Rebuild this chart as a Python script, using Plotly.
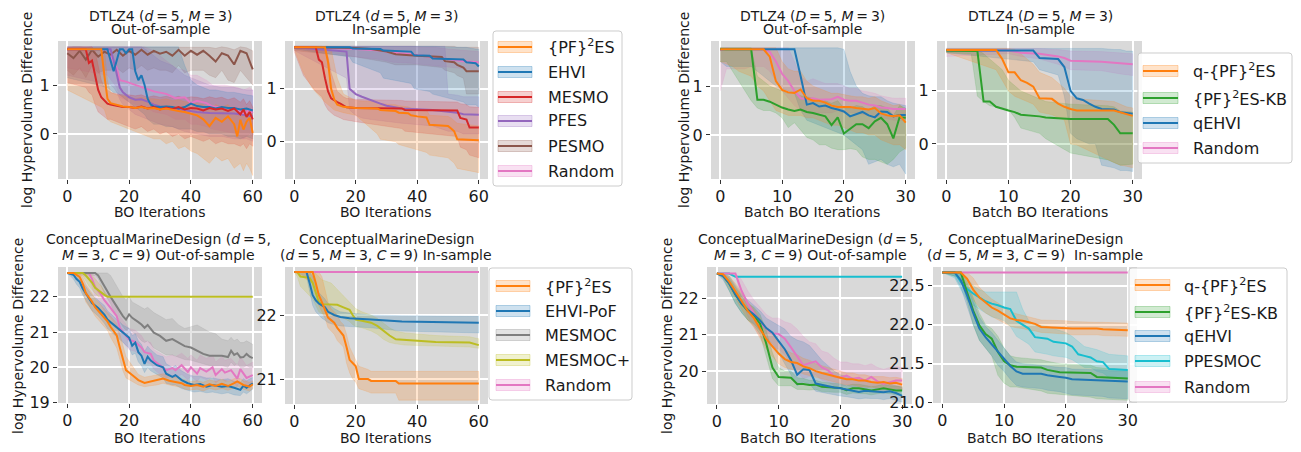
import plotly.graph_objects as go

# The page body has the browser's default 8px margin, so the figure is sized to fit
# inside it and all positions below are given in window pixels (offset by 8).
OFF = 8
W, H = 1301 - 2 * OFF, 452 - 2 * OFF
FONT = "DejaVu Sans"

ORANGE = "#ff7f0e"; BLUE = "#1f77b4"; RED = "#d62728"; PURPLE = "#9467bd"
BROWN = "#8c564b"; PINK = "#e377c2"; GRAY = "#7f7f7f"; OLIVE = "#bcbd22"
CYAN = "#17becf"; GREEN = "#2ca02c"

# ================= Panel 1: DTLZ4 (d=5, M=3) Out-of-sample, BO =================
p1_pf_x = [0,11,12,13,14,16,18,20,22,24,26,28,30,32,34,36,38,40,42,44,46,48,50,52,54,55,56,57,58,59,60]
p1_pf_y = [1.73,1.73,1.2,0.72,0.63,0.6,0.56,0.55,0.53,0.55,0.52,0.53,0.5,0.52,0.49,0.47,0.45,0.42,0.38,0.3,0.16,0.33,0.25,0.36,0.2,-0.05,0.29,0.09,0.25,0.33,0.02]
p1_pf_lo = [0.9,0.55,0.5,0.3,0.25,0.2,0.15,0.1,0.05,0.0,-0.05,-0.1,-0.1,-0.2,-0.15,-0.3,-0.25,-0.35,-0.4,-0.5,-0.6,-0.45,-0.55,-0.5,-0.7,-0.65,-0.6,-0.75,-0.6,-0.7,-0.85]
p1_pf_hi = [1.76,1.76,1.76,1.1,0.85,0.8,0.78,0.75,0.72,0.75,0.72,0.72,0.7,0.72,0.68,0.7,0.66,0.65,0.62,0.6,0.5,0.6,0.55,0.6,0.45,0.35,0.5,0.4,0.45,0.5,0.3]

p1_ehvi_x = [0,13,14,15,16,17,18,19,20,21,22,23,24,25,26,27,28,30,32,34,36,38,40,42,44,46,48,50,52,54,56,58,60]
p1_ehvi_y = [1.73,1.73,1.5,1.28,1.5,1.73,1.73,1.65,1.73,1.73,1.28,1.1,1.2,1.0,0.72,0.6,0.56,0.55,0.56,0.55,0.52,0.55,0.62,0.57,0.55,0.55,0.52,0.55,0.53,0.53,0.5,0.52,0.48]
p1_ehvi_lo = [1.15,0.95,0.9,0.85,0.85,0.8,0.75,0.7,0.65,0.6,0.55,0.5,0.45,0.4,0.3,0.25,0.2,0.2,0.15,0.15,0.1,0.1,0.1,0.05,0.05,0.0,0.0,0.0,-0.05,-0.05,-0.1,-0.05,-0.1]
p1_ehvi_hi = [1.78,1.78,1.78,1.78,1.78,1.78,1.78,1.78,1.78,1.78,1.78,1.78,1.78,1.78,1.78,1.78,1.78,1.78,1.78,1.78,1.78,1.4,1.1,1.0,0.95,0.9,0.9,0.88,0.85,0.85,0.82,0.8,0.78]

p1_mesmo_x = [0,6,7,8,9,10,11,12,13,14,16,18,20,22,24,26,28,30,32,34,36,38,40,42,44,46,48,50,52,54,56,57,58,59,60]
p1_mesmo_y = [1.73,1.73,1.45,1.5,1.2,0.9,0.75,0.68,0.62,0.6,0.57,0.55,0.55,0.53,0.56,0.52,0.55,0.5,0.54,0.51,0.55,0.5,0.53,0.52,0.48,0.53,0.5,0.52,0.47,0.52,0.4,0.5,0.35,0.45,0.3]
p1_mesmo_lo = [1.05,0.95,0.85,0.8,0.6,0.45,0.4,0.35,0.3,0.3,0.25,0.2,0.15,0.1,0.15,0.05,0.1,0.0,0.05,-0.05,0.0,-0.1,-0.05,-0.1,-0.15,-0.1,-0.2,-0.15,-0.2,-0.2,-0.25,-0.2,-0.3,-0.2,-0.25]
p1_mesmo_hi = [1.78,1.78,1.78,1.78,1.7,1.4,1.1,0.95,0.9,0.85,0.82,0.8,0.8,0.78,0.8,0.75,0.78,0.75,0.77,0.74,0.77,0.73,0.76,0.75,0.72,0.76,0.73,0.75,0.7,0.74,0.65,0.72,0.6,0.68,0.55]

p1_pfes_x = [0,14,15,16,17,18,19,20,22,24,26,28,30,34,38,42,46,50,54,58,60]
p1_pfes_y = [1.73,1.73,1.5,1.2,0.95,0.85,0.8,0.75,0.7,0.71,0.66,0.6,0.56,0.52,0.48,0.45,0.43,0.43,0.42,0.38,0.36]
p1_pfes_lo = [1.2,1.0,0.95,0.85,0.7,0.6,0.55,0.5,0.4,0.35,0.3,0.25,0.2,0.15,0.05,0.0,-0.05,-0.05,-0.1,-0.1,-0.15]
p1_pfes_hi = [1.78,1.78,1.78,1.78,1.78,1.78,1.78,1.78,1.78,1.78,1.7,1.6,1.5,1.4,1.2,1.1,1.0,0.95,0.95,0.9,0.9]

p1_pesmo_x = list(range(0, 61, 2))
p1_pesmo_y = [1.65,1.55,1.7,1.52,1.72,1.58,1.68,1.62,1.72,1.6,1.7,1.62,1.72,1.62,1.7,1.64,1.68,1.6,1.72,1.6,1.7,1.62,1.7,1.6,1.48,1.65,1.6,1.42,1.7,1.65,1.32]
p1_pesmo_lo = [1.3,1.2,1.35,1.15,1.4,1.25,1.3,1.3,1.35,1.25,1.35,1.3,1.4,1.3,1.35,1.3,1.3,1.25,1.4,1.25,1.3,1.3,1.3,1.2,1.15,1.3,1.1,1.05,1.3,1.15,1.0]
p1_pesmo_hi = [1.76,1.78,1.78,1.77,1.78,1.78,1.77,1.78,1.78,1.78,1.78,1.77,1.78,1.78,1.78,1.77,1.78,1.78,1.78,1.77,1.78,1.78,1.78,1.77,1.75,1.78,1.76,1.72,1.78,1.76,1.7]

p1_rand_x = [0,13,16,17,19,22,25,28,32,35,38,40,42,45,47,51,55,57,59,60]
p1_rand_y = [1.73,1.73,1.35,1.1,1.07,1.0,0.94,0.87,0.82,0.73,0.75,0.63,0.68,0.63,0.56,0.53,0.52,0.4,0.5,0.43]
p1_rand_lo = [1.35,1.2,0.95,0.75,0.7,0.6,0.55,0.45,0.4,0.3,0.3,0.2,0.2,0.15,0.1,0.05,0.0,-0.1,0.0,-0.05]
p1_rand_hi = [1.78,1.78,1.78,1.78,1.78,1.78,1.78,1.7,1.5,1.35,1.3,1.2,1.2,1.1,1.0,1.0,0.95,0.9,0.95,0.9]

# ================= Panel 2: DTLZ4 (d=5, M=3) In-sample, BO =================
p2_pf_x = [0,3,6,10,11,12,13,14,16,20,27,28,33,34,37,38,40,43,44,50,51,52,53,60]
p2_pf_y = [1.78,1.78,1.78,1.78,1.5,1.0,0.8,0.7,0.66,0.64,0.63,0.6,0.58,0.55,0.54,0.5,0.48,0.46,0.32,0.3,0.25,0.2,0.05,0.03]
p2_pf_lo = [1.75,1.3,1.0,0.75,0.7,0.65,0.6,0.58,0.55,0.5,0.15,0.05,0.0,-0.05,-0.1,-0.12,-0.15,-0.2,-0.25,-0.3,-0.35,-0.4,-0.5,-0.58]
p2_pf_hi = [1.8,1.8,1.8,1.8,1.8,1.75,1.5,1.2,0.9,0.78,0.75,0.72,0.7,0.68,0.66,0.64,0.62,0.6,0.5,0.48,0.45,0.4,0.35,0.3]

p2_ehvi_x = [0,18,19,28,29,38,39,44,45,55,56,59,60]
p2_ehvi_y = [1.78,1.78,1.76,1.75,1.72,1.7,1.63,1.62,1.57,1.55,1.5,1.48,1.42]
p2_ehvi_lo = [1.75,1.6,1.5,1.3,1.2,1.1,1.0,0.95,0.9,0.75,0.7,0.7,0.65]
p2_ehvi_hi = [1.8,1.8,1.8,1.8,1.8,1.8,1.8,1.8,1.8,1.78,1.78,1.75,1.75]

p2_mesmo_x = [0,3,7,8,9,10,11,12,13,14,15,16,17,20,35,36,53,54,56,57,60]
p2_mesmo_y = [1.78,1.78,1.78,1.55,1.5,1.2,0.95,0.82,0.78,0.75,0.72,0.68,0.65,0.64,0.63,0.6,0.59,0.45,0.42,0.27,0.27]
p2_mesmo_lo = [1.7,1.25,0.95,0.9,0.85,0.7,0.6,0.55,0.5,0.48,0.45,0.42,0.4,0.38,0.25,0.2,0.1,-0.1,-0.15,-0.25,-0.3]
p2_mesmo_hi = [1.8,1.8,1.8,1.8,1.8,1.78,1.6,1.3,1.1,0.95,0.9,0.85,0.82,0.8,0.78,0.77,0.75,0.72,0.7,0.66,0.65]

p2_pfes_x = [0,17,18,19,20,22,25,28,30,35,45,49,50,53,55,60]
p2_pfes_y = [1.78,1.7,1.0,0.95,0.9,0.85,0.78,0.72,0.68,0.63,0.6,0.58,0.57,0.55,0.52,0.51]
p2_pfes_lo = [1.72,1.2,0.6,0.55,0.5,0.45,0.42,0.4,0.38,0.35,0.3,0.22,0.2,0.2,0.15,0.15]
p2_pfes_hi = [1.8,1.8,1.8,1.8,1.8,1.8,1.8,1.8,1.8,1.8,1.8,1.8,0.9,0.88,0.85,0.85]

p2_pesmo_x = [0,20,25,30,33,40,48,49,52,53,55,56,60]
p2_pesmo_y = [1.78,1.77,1.75,1.7,1.65,1.62,1.6,1.52,1.5,1.45,1.4,1.33,1.33]
p2_pesmo_lo = [1.72,1.6,1.55,1.5,1.45,1.45,1.4,1.35,1.3,1.25,1.2,0.9,0.9]
p2_pesmo_hi = [1.8,1.8,1.8,1.8,1.8,1.8,1.8,1.8,1.8,1.78,1.78,1.78,1.78]

p2_rand_x = [0,10,20,28,32,38,42,46,50,55,60]
p2_rand_y = [1.78,1.77,1.75,1.72,1.68,1.65,1.62,1.58,1.55,1.52,1.5]
p2_rand_lo = [1.75,1.7,1.6,1.55,1.5,1.48,1.45,1.42,1.4,1.38,1.35]
p2_rand_hi = [1.8,1.8,1.8,1.8,1.8,1.8,1.78,1.78,1.75,1.72,1.7]

# ================= Panel 3: DTLZ4 (D=5, M=3) Out-of-sample, Batch =================
batch_iters = list(range(31))
p3_qpf_y = [1.75,1.75,1.75,1.75,1.75,1.75,1.75,1.75,1.6,1.1,0.92,0.87,0.86,0.93,0.75,0.7,0.7,0.66,0.6,0.57,0.57,0.57,0.55,0.54,0.52,0.55,0.44,0.4,0.38,0.4,0.25]
p3_qpf_lo = [1.5,1.45,1.4,1.3,1.25,1.2,1.0,0.9,0.7,0.5,0.45,0.4,0.4,0.4,0.35,0.35,0.3,0.25,0.2,0.2,0.15,0.1,0.05,0.05,0.0,0.0,-0.1,-0.15,-0.2,-0.2,-0.3]
p3_qpf_hi = [1.78,1.78,1.78,1.78,1.78,1.78,1.78,1.78,1.78,1.78,1.5,1.35,1.3,1.3,1.1,1.0,0.95,0.9,0.85,0.85,0.82,0.8,0.78,0.78,0.75,0.78,0.7,0.65,0.6,0.62,0.5]

p3_kb_y = [1.75,1.75,1.75,1.75,1.75,1.75,0.72,0.72,0.68,0.62,0.56,0.52,0.49,0.52,0.47,0.45,0.42,0.38,0.2,0.36,0.03,0.12,0.22,0.22,0.14,0.28,0.35,0.22,-0.07,0.36,0.35]
p3_kb_lo = [1.5,1.5,1.3,1.1,0.9,0.7,0.55,0.5,0.5,0.45,0.35,0.15,0.25,0.1,-0.05,-0.1,-0.2,-0.2,-0.27,-0.3,-0.3,-0.28,-0.3,-0.45,-0.5,-0.5,-0.55,-0.6,-0.5,-0.35,-0.27]
p3_kb_hi = [1.78,1.78,1.78,1.78,1.78,1.78,1.2,1.1,1.0,0.95,0.9,0.85,0.85,0.8,0.78,0.75,0.7,0.7,0.65,0.7,0.55,0.55,0.6,0.58,0.5,0.6,0.6,0.55,0.4,0.6,0.55]

p3_qehvi_y = [1.75,1.75,1.75,1.75,1.75,1.75,1.75,1.75,1.75,1.75,1.75,1.75,1.75,1.2,0.62,0.65,0.58,0.6,0.55,0.52,0.48,0.38,0.42,0.47,0.4,0.36,0.48,0.47,0.38,0.41,0.41]
p3_qehvi_lo = [1.5,1.4,1.4,1.4,1.4,1.4,1.3,1.2,1.1,1.0,0.95,0.9,0.85,0.5,0.3,0.25,0.2,0.15,0.1,0.05,0.0,-0.1,-0.2,-0.3,-0.6,-0.55,-0.5,-0.6,-0.65,-0.6,-0.8]
p3_qehvi_hi = [1.78,1.78,1.78,1.78,1.78,1.78,1.78,1.78,1.78,1.78,1.78,1.78,1.78,1.78,1.78,1.78,1.78,1.78,1.78,1.78,1.75,1.3,1.0,0.85,0.8,0.78,0.78,0.7,0.65,0.62,0.6]

p3_rand_y = [1.73,1.76,1.75,1.75,1.75,1.75,1.75,1.75,1.7,1.5,1.25,1.1,0.9,0.75,0.73,0.75,0.72,0.72,0.73,0.78,0.72,0.7,0.7,0.66,0.62,0.6,0.56,0.55,0.53,0.53,0.53]
p3_rand_lo = [0.9,1.35,1.35,1.35,1.35,1.4,1.4,1.4,1.3,1.1,0.9,0.75,0.6,0.5,0.45,0.45,0.45,0.45,0.45,0.5,0.45,0.45,0.45,0.42,0.4,0.38,0.35,0.33,0.3,0.3,0.3]
p3_rand_hi = [1.78,1.78,1.78,1.78,1.78,1.78,1.78,1.78,1.78,1.78,1.78,1.78,1.5,1.2,1.1,1.15,1.1,1.05,1.05,1.05,1.0,0.95,0.95,0.9,0.88,0.85,0.8,0.78,0.75,0.75,0.75]

# ================= Panel 4: DTLZ4 (D=5, M=3) In-sample, Batch =================
p4_qpf_x = [0,8,9,10,11,12,13,14,15,17,18,19,20,21,27,28,29,30]
p4_qpf_y = [1.77,1.77,1.6,1.35,1.35,1.2,1.15,1.08,0.86,0.85,0.76,0.7,0.66,0.63,0.63,0.6,0.57,0.53]
p4_qpf_lo = [1.72,1.4,1.2,1.0,0.9,0.85,0.8,0.75,0.6,0.55,0.5,0.45,0.0,-0.02,-0.35,-0.4,-0.42,-0.45]
p4_qpf_hi = [1.8,1.8,1.8,1.8,1.78,1.7,1.6,1.5,1.35,1.25,1.15,1.05,0.9,0.85,0.8,0.75,0.7,0.68]

p4_kb_x = [0,4,5,6,7,8,9,10,11,12,15,16,20,26,27,28,30]
p4_kb_y = [1.76,1.75,1.75,0.8,0.8,0.7,0.66,0.63,0.6,0.55,0.52,0.5,0.47,0.47,0.36,0.2,0.2]
p4_kb_lo = [1.72,1.7,0.9,0.8,0.72,0.7,0.68,0.65,0.5,0.3,0.2,0.1,-0.17,-0.3,-0.35,-0.4,-0.38]
p4_kb_hi = [1.78,1.78,1.78,1.7,1.6,1.5,1.4,1.2,1.1,1.0,0.85,0.8,0.75,0.72,0.7,0.62,0.6]

p4_qehvi_x = [0,14,15,18,19,20,21,22,23,24,25,27,28,29,30]
p4_qehvi_y = [1.76,1.76,1.62,1.6,1.45,1.0,0.86,0.83,0.76,0.7,0.66,0.65,0.6,0.58,0.57]
p4_qehvi_lo = [1.72,1.55,1.4,1.3,0.9,0.2,0.1,0.05,0.0,0.0,-0.4,-0.45,-0.5,-0.5,-0.52]
p4_qehvi_hi = [1.8,1.8,1.8,1.8,1.8,1.8,1.8,1.8,1.8,1.8,1.8,1.78,1.78,1.75,1.75]

p4_rand_x = [0,10,12,15,18,19,20,25,28,30]
p4_rand_y = [1.76,1.76,1.72,1.7,1.65,1.62,1.57,1.55,1.52,1.5]
p4_rand_lo = [1.65,1.7,1.65,1.6,1.5,1.45,1.4,1.38,1.32,1.29]
p4_rand_hi = [1.8,1.8,1.8,1.8,1.78,1.76,1.75,1.74,1.72,1.7]

# ================= Panel 5: ConceptualMarineDesign Out-of-sample, BO =================
p5_pf_x = [0,2,4,5,6,8,9,11,13,14,16,17,18,19,21,23,25,27,29,31,33,35,37,38,40,42,44,46,48,50,52,54,55,57,59,60]
p5_pf_y = [22.67,22.67,22.56,22.37,22.1,21.86,21.7,21.5,21.3,21.15,20.9,20.56,20.2,19.92,19.78,19.64,19.56,19.6,19.64,19.68,19.62,19.58,19.55,19.5,19.47,19.5,19.45,19.52,19.47,19.53,19.47,19.55,19.6,19.5,19.45,19.52]
p5_pf_lo = [22.67,22.6,22.4,22.15,21.85,21.6,21.45,21.25,21.05,20.85,20.55,20.2,19.9,19.7,19.6,19.5,19.45,19.48,19.5,19.55,19.5,19.46,19.43,19.38,19.36,19.38,19.33,19.4,19.36,19.4,19.35,19.42,19.47,19.38,19.33,19.4]
p5_pf_hi = [22.67,22.67,22.65,22.55,22.35,22.1,21.95,21.75,21.55,21.45,21.25,20.95,20.6,20.3,20.05,19.8,19.72,19.75,19.78,19.82,19.76,19.72,19.68,19.64,19.6,19.62,19.58,19.65,19.6,19.66,19.6,19.68,19.72,19.62,19.58,19.62]

p5_pof_x = [0,2,3,4,5,7,8,10,12,13,15,17,18,20,21,22,23,24,25,26,27,29,31,32,34,35,37,39,41,43,45,47,50,52,54,56,57,58,60]
p5_pof_y = [22.67,22.62,22.5,22.42,22.23,21.95,21.82,21.68,21.49,21.35,21.21,21.07,20.98,20.84,20.61,20.7,20.43,20.33,20.1,20.3,20.19,20.06,20.0,19.82,19.73,19.78,19.64,19.55,19.5,19.53,19.45,19.5,19.45,19.47,19.42,19.36,19.48,19.42,19.55]
p5_pof_lo = [22.67,22.5,22.35,22.25,22.05,21.75,21.6,21.45,21.25,21.1,20.95,20.8,20.7,20.55,20.35,20.4,20.15,20.05,19.85,20.0,19.9,19.8,19.7,19.55,19.5,19.5,19.4,19.35,19.3,19.32,19.28,19.3,19.25,19.28,19.22,19.2,19.3,19.25,19.38]
p5_pof_hi = [22.67,22.67,22.6,22.55,22.4,22.15,22.05,21.9,21.75,21.6,21.45,21.3,21.2,21.1,20.9,20.95,20.75,20.65,20.45,20.6,20.5,20.35,20.3,20.1,20.0,20.05,19.9,19.8,19.75,19.75,19.7,19.7,19.65,19.68,19.6,19.58,19.68,19.62,19.72]

p5_mesmoc_x = [0,9,10,11,12,13,14,15,16,17,18,19,20,21,22,23,24,25,26,28,30,32,34,36,38,40,42,44,46,48,50,52,53,54,55,56,57,58,59,60]
p5_mesmoc_y = [22.67,22.67,22.6,22.46,22.3,22.15,22.0,21.86,21.72,21.58,21.45,21.35,21.5,21.4,21.35,21.28,21.21,21.12,21.2,20.98,20.89,20.75,20.8,20.7,20.6,20.56,20.47,20.38,20.33,20.33,20.33,20.29,20.47,20.35,20.4,20.28,20.29,20.38,20.3,20.26]
p5_mesmoc_lo = [22.67,22.6,22.5,22.3,22.1,21.95,21.8,21.6,21.45,21.3,21.15,21.05,21.1,21.0,20.95,20.85,20.75,20.7,20.75,20.55,20.45,20.35,20.35,20.28,20.22,20.2,20.15,20.1,20.05,20.05,20.05,20.0,20.15,20.05,20.1,20.0,20.0,20.05,20.0,20.0]
p5_mesmoc_hi = [22.67,22.67,22.67,22.67,22.67,22.67,22.6,22.45,22.3,22.15,22.0,21.9,22.0,21.85,21.8,21.75,21.7,21.65,21.7,21.55,21.45,21.35,21.38,21.2,21.1,21.15,21.2,21.1,21.0,20.95,20.8,20.75,20.85,20.75,20.8,20.7,20.7,20.75,20.7,20.65]

p5_mesmocp_x = [0,5,6,7,8,9,10,11,12,13,60]
p5_mesmocp_y = [22.67,22.67,22.6,22.5,22.4,22.25,22.18,22.1,22.05,22.0,22.0]
p5_mesmocp_lo = [22.67,22.6,22.45,22.3,22.2,22.1,22.0,22.0,22.0,22.0,22.0]
p5_mesmocp_hi = [22.67,22.67,22.67,22.67,22.6,22.5,22.4,22.3,22.15,22.02,22.0]

p5_rand_x = [0,7,8,9,11,12,14,16,17,19,20,22,24,25,27,28,30,32,34,35,37,39,40,42,43,45,47,48,50,51,53,55,56,58,60]
p5_rand_y = [22.67,22.67,22.5,22.28,22.05,21.9,21.68,21.45,21.12,20.89,20.78,20.72,20.56,20.43,20.38,20.19,20.06,19.92,19.98,19.92,20.06,19.87,20.0,19.82,19.98,19.88,20.0,19.78,19.95,19.85,19.92,19.68,19.95,19.7,19.78]
p5_rand_lo = [22.67,22.55,22.3,22.0,21.75,21.6,21.4,21.15,20.85,20.6,20.5,20.45,20.3,20.15,20.1,19.95,19.8,19.7,19.75,19.7,19.8,19.65,19.75,19.6,19.72,19.65,19.75,19.55,19.7,19.6,19.65,19.45,19.7,19.48,19.55]
p5_rand_hi = [22.67,22.67,22.67,22.55,22.3,22.15,21.95,21.75,21.45,21.2,21.1,21.05,20.9,20.75,20.7,20.5,20.4,20.3,20.35,20.3,20.4,20.25,20.35,20.2,20.35,20.25,20.35,20.15,20.3,20.2,20.25,20.05,20.3,20.05,20.15]

# ================= Panel 6: ConceptualMarineDesign In-sample, BO =================
p6_pf_x = [0,6,7,8,9,10,11,12,13,14,15,16,17,18,19,20,21,24,25,33,34,60]
p6_pf_y = [22.67,22.67,22.5,22.31,22.2,22.09,21.96,21.92,21.88,21.8,21.73,21.68,21.5,21.3,21.25,21.2,21.0,21.0,20.97,20.97,20.93,20.93]
p6_pf_lo = [22.67,22.5,22.35,22.15,22.05,21.95,21.8,21.75,21.7,21.6,21.55,21.5,21.25,21.1,21.0,20.95,20.85,20.8,20.78,20.78,20.67,20.67]
p6_pf_hi = [22.67,22.67,22.67,22.67,22.6,22.4,22.2,22.1,22.05,22.0,21.9,21.85,21.7,21.5,21.4,21.3,21.2,21.15,21.12,21.12,21.12,21.12]

p6_pof_x = [0,4,5,6,7,8,9,10,11,13,15,18,25,35,60]
p6_pof_y = [22.67,22.67,22.5,22.31,22.23,22.18,22.15,22.12,22.05,22.0,21.97,21.95,21.93,21.9,21.88]
p6_pof_lo = [22.67,22.6,22.35,22.15,22.05,22.0,21.95,21.92,21.88,21.85,21.83,21.82,21.8,21.75,21.72]
p6_pof_hi = [22.67,22.67,22.67,22.6,22.45,22.35,22.3,22.25,22.18,22.1,22.05,22.03,22.0,21.99,21.98]

p6_mesmoc_x = [0,60]
p6_mesmoc_y = [22.67,22.67]

p6_mesmocp_x = [0,1,2,5,6,7,8,9,12,14,16,18,19,20,22,25,27,29,31,33,36,46,57,60]
p6_mesmocp_y = [22.67,22.67,22.6,22.58,22.5,22.35,22.2,22.17,22.17,22.16,22.12,22.08,22.0,21.93,21.91,21.88,21.83,21.75,21.68,21.62,21.61,21.58,21.57,21.53]
p6_mesmocp_lo = [22.67,22.6,22.45,22.3,22.25,22.15,22.05,22.02,22.0,21.98,21.95,21.9,21.85,21.82,21.8,21.75,21.7,21.62,21.57,21.55,21.53,21.52,21.5,21.48]
p6_mesmocp_hi = [22.67,22.67,22.67,22.67,22.67,22.65,22.6,22.55,22.5,22.4,22.3,22.2,22.15,22.1,22.05,22.0,21.95,21.88,21.8,21.75,21.72,21.68,21.66,21.63]

p6_rand_x = [0,60]
p6_rand_y = [22.67,22.67]

# ================= Panel 7: ConceptualMarineDesign Out-of-sample, Batch =================
p7_qpf_y = [22.67,22.65,22.45,22.2,21.92,21.65,21.45,21.16,20.88,20.68,20.48,20.33,20.25,20.22,20.13,20.08,20.0,19.95,19.9,19.86,19.82,19.78,19.78,19.74,19.74,19.7,19.68,19.7,19.66,19.68,19.63]
p7_qpf_lo = [22.67,22.6,22.3,22.0,21.7,21.4,21.2,20.9,20.6,20.4,20.2,20.1,20.05,20.0,19.92,19.88,19.82,19.78,19.74,19.7,19.66,19.62,19.62,19.58,19.58,19.55,19.54,19.55,19.52,19.53,19.48]
p7_qpf_hi = [22.67,22.67,22.6,22.4,22.15,21.9,21.7,21.45,21.2,21.0,20.8,20.6,20.5,20.45,20.35,20.3,20.2,20.15,20.1,20.05,20.0,19.95,19.95,19.9,19.9,19.85,19.85,19.85,19.82,19.83,19.8]

p7_kb_y = [22.67,22.62,22.4,22.1,21.85,21.65,21.52,21.3,20.75,20.1,19.84,19.82,19.82,19.65,19.65,19.62,19.63,19.57,19.56,19.54,19.54,19.48,19.53,19.53,19.5,19.47,19.5,19.53,19.5,19.47,19.47]
p7_kb_lo = [22.67,22.55,22.2,21.85,21.6,21.4,21.25,21.0,20.4,19.8,19.6,19.6,19.6,19.5,19.5,19.48,19.5,19.44,19.44,19.42,19.42,19.36,19.4,19.4,19.38,19.35,19.38,19.4,19.38,19.35,19.35]
p7_kb_hi = [22.67,22.67,22.55,22.3,22.05,21.85,21.75,21.55,21.1,20.5,20.1,20.0,20.0,19.82,19.8,19.75,19.75,19.7,19.68,19.66,19.65,19.6,19.64,19.64,19.62,19.58,19.6,19.64,19.6,19.58,19.58]

p7_qehvi_y = [22.67,22.6,22.4,22.1,21.85,21.68,21.55,21.39,21.18,21.05,20.82,20.6,20.3,19.9,20.05,20.03,19.66,19.62,19.6,19.55,19.53,19.5,19.48,19.43,19.46,19.45,19.45,19.42,19.45,19.4,19.32]
p7_qehvi_lo = [22.67,22.5,22.2,21.85,21.6,21.4,21.3,21.1,20.9,20.75,20.5,20.2,19.9,19.6,19.7,19.65,19.45,19.4,19.38,19.35,19.32,19.3,19.28,19.24,19.26,19.25,19.25,19.22,19.25,19.2,19.15]
p7_qehvi_hi = [22.67,22.67,22.6,22.35,22.1,21.95,21.8,21.65,21.45,21.35,21.25,21.15,20.95,20.85,20.8,20.7,20.5,20.3,20.15,20.0,19.9,19.85,19.8,19.75,19.72,19.7,19.68,19.65,19.65,19.6,19.55]

p7_ppesmoc_x = [0,2,3,30]
p7_ppesmoc_y = [22.67,22.67,22.58,22.58]

p7_rand_y = [22.67,22.67,22.67,22.67,22.2,21.85,21.58,21.34,21.17,21.03,21.02,20.89,20.65,20.42,20.16,20.22,20.27,20.1,20.02,19.86,19.82,19.88,19.79,19.82,19.74,19.84,19.72,19.65,19.7,19.74,19.74]
p7_rand_lo = [22.67,22.67,22.67,22.67,21.9,21.5,21.2,20.95,20.8,20.65,20.6,20.45,20.2,19.95,19.8,19.85,19.9,19.75,19.7,19.6,19.58,19.62,19.55,19.58,19.5,19.6,19.48,19.42,19.48,19.5,19.5]
p7_rand_hi = [22.67,22.67,22.67,22.67,22.5,22.2,21.95,21.75,21.55,21.45,21.45,21.35,21.3,21.15,20.95,20.8,20.75,20.55,20.5,20.35,20.25,20.25,20.2,20.2,20.15,20.2,20.1,20.05,20.1,20.12,20.1]

# ================= Panel 8: ConceptualMarineDesign In-sample, Batch =================
p8_qpf_x = [0,3,4,5,6,7,8,9,10,11,12,13,14,15,16,20,21,25,26,30]
p8_qpf_y = [22.67,22.67,22.59,22.45,22.35,22.28,22.22,22.18,22.13,22.08,22.06,22.05,22.03,22.01,21.97,21.96,21.95,21.95,21.94,21.93]
p8_qpf_lo = [22.67,22.67,22.5,22.32,22.22,22.15,22.1,22.06,22.02,21.98,21.96,21.95,21.93,21.92,21.9,21.88,21.87,21.87,21.86,21.85]
p8_qpf_hi = [22.67,22.67,22.67,22.6,22.48,22.4,22.33,22.28,22.22,22.17,22.14,22.12,22.1,22.08,22.06,22.05,22.04,22.03,22.03,22.02]

p8_kb_x = [0,3,4,5,6,7,8,9,10,11,12,16,17,19,24,25,30]
p8_kb_y = [22.67,22.67,22.42,22.18,21.99,21.88,21.82,21.65,21.53,21.48,21.46,21.45,21.42,21.39,21.38,21.33,21.31]
p8_kb_lo = [22.67,22.6,22.3,22.0,21.8,21.7,21.6,21.35,21.25,21.2,21.2,21.15,21.12,21.1,21.07,21.05,21.03]
p8_kb_hi = [22.67,22.67,22.55,22.35,22.15,22.0,21.95,21.85,21.7,21.6,21.58,21.55,21.53,21.5,21.48,21.45,21.42]

p8_qehvi_x = [0,2,3,4,5,6,7,8,9,10,11,12,13,16,17,19,20,21,26,27,30]
p8_qehvi_y = [22.67,22.67,22.57,22.38,22.15,21.95,21.84,21.75,21.65,21.56,21.47,21.4,21.37,21.37,21.35,21.33,21.32,21.3,21.29,21.28,21.27]
p8_qehvi_lo = [22.67,22.62,22.48,22.25,22.0,21.8,21.7,21.6,21.48,21.4,21.3,21.22,21.2,21.18,21.16,21.14,21.12,21.1,21.08,21.06,21.05]
p8_qehvi_hi = [22.67,22.67,22.65,22.5,22.3,22.1,21.98,21.9,21.8,21.7,21.6,21.52,21.5,21.48,21.47,21.45,21.45,21.43,21.42,21.41,21.4]

p8_ppesmoc_x = [0,2,3,4,5,6,7,8,9,10,11,12,13,14,15,17,18,20,21,22,23,24,25,26,27,30]
p8_ppesmoc_y = [22.67,22.67,22.55,22.46,22.4,22.35,22.3,22.27,22.25,22.22,22.2,22.05,22.0,21.95,21.84,21.82,21.78,21.76,21.72,21.62,21.6,21.58,21.53,21.52,21.43,21.42]
p8_ppesmoc_lo = [22.67,22.6,22.45,22.32,22.25,22.2,22.15,22.1,22.08,22.05,21.98,21.85,21.8,21.75,21.65,21.62,21.6,21.58,21.55,21.5,21.45,21.45,21.4,21.38,21.32,21.3]
p8_ppesmoc_hi = [22.67,22.67,22.67,22.6,22.5,22.45,22.42,22.42,22.42,22.42,22.42,22.42,22.2,22.05,22.0,21.98,21.95,21.9,21.85,21.78,21.72,21.7,21.68,21.65,21.62,21.6]

p8_rand_x = [0,30]
p8_rand_y = [22.67,22.67]

# ---------------- text ----------------
legend_top_left = ["{PF}<sup>2</sup>ES", "EHVI", "MESMO", "PFES", "PESMO", "Random"]
legend_top_right = ["q-{PF}<sup>2</sup>ES", "{PF}<sup>2</sup>ES-KB", "qEHVI", "Random"]
legend_bot_left = ["{PF}<sup>2</sup>ES", "EHVI-PoF", "MESMOC", "MESMOC+", "Random"]
legend_bot_right = ["q-{PF}<sup>2</sup>ES", "{PF}<sup>2</sup>ES-KB", "qEHVI", "PPESMOC", "Random"]

EQ = "\u2009=\u2009"
titles = [
    ["DTLZ4 (<i>d</i>%s5, <i>M</i>%s3)" % (EQ, EQ), "Out-of-sample"],
    ["DTLZ4 (<i>d</i>%s5, <i>M</i>%s3)" % (EQ, EQ), "In-sample"],
    ["DTLZ4 (<i>D</i>%s5, <i>M</i>%s3)" % (EQ, EQ), "Out-of-sample"],
    ["DTLZ4 (<i>D</i>%s5, <i>M</i>%s3)" % (EQ, EQ), "In-sample"],
    ["ConceptualMarineDesign (<i>d</i>%s5," % EQ, "<i>M</i>%s3, <i>C</i>%s9) Out-of-sample" % (EQ, EQ)],
    ["ConceptualMarineDesign", "(<i>d</i>%s5, <i>M</i>%s3, <i>C</i>%s9) In-sample" % (EQ, EQ, EQ)],
    ["ConceptualMarineDesign (<i>d</i>%s5," % EQ, "<i>M</i>%s3, <i>C</i>%s9) Out-of-sample" % (EQ, EQ)],
    ["ConceptualMarineDesign", "(<i>d</i>%s5, <i>M</i>%s3, <i>C</i>%s9)  In-sample" % (EQ, EQ, EQ)],
]
xlabels = ["BO Iterations", "BO Iterations", "Batch BO Iterations", "Batch BO Iterations",
           "BO Iterations", "BO Iterations", "Batch BO Iterations", "Batch BO Iterations"]
ylabel = "log Hypervolume Difference"

# ---------------- layout geometry (window pixels) ----------------
boxes = [  # x0, x1, y0(top), y1(bottom)
    (58, 262, 41, 179), (285, 488, 41, 179), (711, 915, 41, 179), (937, 1142, 41, 179),
    (58, 262, 267, 403), (285, 488, 267, 404), (707, 912, 267, 404), (933, 1137, 267, 403),
]
xranges = [[-3, 63], [-3, 63], [-1.5, 31.5], [-1.5, 31.5], [-3, 63], [-3, 63], [-1.6, 31.6], [-1.5, 31.5]]
yranges = [[-0.92, 1.9], [-0.7, 1.9], [-0.9, 1.92], [-0.66, 1.94],
           [18.99, 22.84], [20.61, 22.75], [19.1, 22.85], [20.995, 22.74]]
xticks = [[0, 20, 40, 60]] * 2 + [[0, 10, 20, 30]] * 2 + [[0, 20, 40, 60]] * 2 + [[0, 10, 20, 30]] * 2
yticks = [[0, 1]] * 4 + [[19, 20, 21, 22], [21, 22], [20, 21, 22], [21.0, 21.5, 22.0, 22.5]]
ytext = [None] * 7 + [["21.0", "21.5", "22.0", "22.5"]]

TXT = "#1a1a1a"


def fx(p):
    return (p - OFF) / W


def fy(p):
    return 1 - (p - OFF) / H


def rgba(h, a):
    h = h.lstrip("#")
    return "rgba(%d,%d,%d,%.3f)" % (int(h[0:2], 16), int(h[2:4], 16), int(h[4:6], 16), a)


fig = go.Figure()


def add_band(i, x, lo, hi, color):
    fig.add_trace(go.Scatter(
        x=list(x) + list(x)[::-1], y=list(hi) + list(lo)[::-1], fill="toself",
        fillcolor=rgba(color, 0.2), line=dict(color=rgba(color, 0.15), width=1),
        mode="lines", hoverinfo="skip", showlegend=False,
        xaxis="x%d" % (i + 1), yaxis="y%d" % (i + 1)))


def add_line(i, x, y, color):
    fig.add_trace(go.Scatter(
        x=x, y=y, mode="lines", line=dict(color=color, width=2),
        hoverinfo="skip", showlegend=False,
        xaxis="x%d" % (i + 1), yaxis="y%d" % (i + 1)))


panels = [
    [(p1_rand_x, p1_rand_y, p1_rand_lo, p1_rand_hi, PINK),
     (p1_pesmo_x, p1_pesmo_y, p1_pesmo_lo, p1_pesmo_hi, BROWN),
     (p1_pfes_x, p1_pfes_y, p1_pfes_lo, p1_pfes_hi, PURPLE),
     (p1_ehvi_x, p1_ehvi_y, p1_ehvi_lo, p1_ehvi_hi, BLUE),
     (p1_mesmo_x, p1_mesmo_y, p1_mesmo_lo, p1_mesmo_hi, RED),
     (p1_pf_x, p1_pf_y, p1_pf_lo, p1_pf_hi, ORANGE)],
    [(p2_rand_x, p2_rand_y, p2_rand_lo, p2_rand_hi, PINK),
     (p2_pesmo_x, p2_pesmo_y, p2_pesmo_lo, p2_pesmo_hi, BROWN),
     (p2_pfes_x, p2_pfes_y, p2_pfes_lo, p2_pfes_hi, PURPLE),
     (p2_ehvi_x, p2_ehvi_y, p2_ehvi_lo, p2_ehvi_hi, BLUE),
     (p2_mesmo_x, p2_mesmo_y, p2_mesmo_lo, p2_mesmo_hi, RED),
     (p2_pf_x, p2_pf_y, p2_pf_lo, p2_pf_hi, ORANGE)],
    [(batch_iters, p3_rand_y, p3_rand_lo, p3_rand_hi, PINK),
     (batch_iters, p3_qehvi_y, p3_qehvi_lo, p3_qehvi_hi, BLUE),
     (batch_iters, p3_kb_y, p3_kb_lo, p3_kb_hi, GREEN),
     (batch_iters, p3_qpf_y, p3_qpf_lo, p3_qpf_hi, ORANGE)],
    [(p4_rand_x, p4_rand_y, p4_rand_lo, p4_rand_hi, PINK),
     (p4_qehvi_x, p4_qehvi_y, p4_qehvi_lo, p4_qehvi_hi, BLUE),
     (p4_kb_x, p4_kb_y, p4_kb_lo, p4_kb_hi, GREEN),
     (p4_qpf_x, p4_qpf_y, p4_qpf_lo, p4_qpf_hi, ORANGE)],
    [(p5_rand_x, p5_rand_y, p5_rand_lo, p5_rand_hi, PINK),
     (p5_mesmoc_x, p5_mesmoc_y, p5_mesmoc_lo, p5_mesmoc_hi, GRAY),
     (p5_mesmocp_x, p5_mesmocp_y, p5_mesmocp_lo, p5_mesmocp_hi, OLIVE),
     (p5_pof_x, p5_pof_y, p5_pof_lo, p5_pof_hi, BLUE),
     (p5_pf_x, p5_pf_y, p5_pf_lo, p5_pf_hi, ORANGE)],
    [(p6_mesmoc_x, p6_mesmoc_y, None, None, GRAY),
     (p6_rand_x, p6_rand_y, None, None, PINK),
     (p6_mesmocp_x, p6_mesmocp_y, p6_mesmocp_lo, p6_mesmocp_hi, OLIVE),
     (p6_pof_x, p6_pof_y, p6_pof_lo, p6_pof_hi, BLUE),
     (p6_pf_x, p6_pf_y, p6_pf_lo, p6_pf_hi, ORANGE)],
    [(p7_ppesmoc_x, p7_ppesmoc_y, None, None, CYAN),
     (batch_iters, p7_rand_y, p7_rand_lo, p7_rand_hi, PINK),
     (batch_iters, p7_kb_y, p7_kb_lo, p7_kb_hi, GREEN),
     (batch_iters, p7_qehvi_y, p7_qehvi_lo, p7_qehvi_hi, BLUE),
     (batch_iters, p7_qpf_y, p7_qpf_lo, p7_qpf_hi, ORANGE)],
    [(p8_rand_x, p8_rand_y, None, None, PINK),
     (p8_ppesmoc_x, p8_ppesmoc_y, p8_ppesmoc_lo, p8_ppesmoc_hi, CYAN),
     (p8_kb_x, p8_kb_y, p8_kb_lo, p8_kb_hi, GREEN),
     (p8_qehvi_x, p8_qehvi_y, p8_qehvi_lo, p8_qehvi_hi, BLUE),
     (p8_qpf_x, p8_qpf_y, p8_qpf_lo, p8_qpf_hi, ORANGE)],
]

for i, series in enumerate(panels):
    for (x, y, lo, hi, c) in series:
        if lo is not None:
            add_band(i, x, lo, hi, c)
    for (x, y, lo, hi, c) in series:
        add_line(i, x, y, c)

layout = dict(
    template="none",
    width=W, height=H, margin=dict(l=0, r=0, t=0, b=0, pad=0, autoexpand=False),
    paper_bgcolor="white", plot_bgcolor="#d9d9d9",
    font=dict(family=FONT, color=TXT, size=16),
    showlegend=False,
)
annotations = []
shapes = []
for i, (x0, x1, y0, y1) in enumerate(boxes):
    k = "" if i == 0 else str(i + 1)
    layout["xaxis" + k] = dict(
        domain=[fx(x0), fx(x1)], range=xranges[i], anchor="y%d" % (i + 1), automargin=False,
        tickvals=xticks[i], showgrid=True, gridcolor="white", gridwidth=2,
        zeroline=False, showline=False, ticks="outside", ticklen=4, tickwidth=1,
        ticklabelstandoff=-1,
        tickcolor="#333333", tickfont=dict(size=16, family=FONT, color=TXT))
    yax = dict(
        domain=[fy(y1), fy(y0)], range=yranges[i], anchor="x%d" % (i + 1), automargin=False,
        tickvals=yticks[i], showgrid=True, gridcolor="white", gridwidth=2,
        zeroline=False, showline=False, ticks="outside", ticklen=4, tickwidth=1,
        tickcolor="#333333", tickfont=dict(size=16, family=FONT, color=TXT))
    if ytext[i] is not None:
        yax["ticktext"] = ytext[i]
    layout["yaxis" + k] = yax

# titles
title_cx = [160, 386, 812, 1040, 158, 386, 810, 1035]
for i, (l1, l2) in enumerate(titles):
    top = i < 4
    ya = 15.5 if top else 239
    yb = 29.5 if top else 254.5
    for txt, yy in ((l1, ya), (l2, yb)):
        annotations.append(dict(text=txt, x=fx(title_cx[i]), y=fy(yy), xref="paper", yref="paper",
                                xanchor="center", yanchor="middle", showarrow=False,
                                font=dict(size=14, family=FONT, color=TXT)))
# x labels
xl_cx = [160, 386, 812, 1040, 160, 386, 808, 1035]
for i, t in enumerate(xlabels):
    yy = 212 if i < 4 else 437.5
    annotations.append(dict(text=t, x=fx(xl_cx[i]), y=fy(yy), xref="paper", yref="paper",
                            xanchor="center", yanchor="middle", showarrow=False,
                            font=dict(size=14, family=FONT, color=TXT)))
# y labels
for (xx, yy) in ((27, 110), (684, 110), (18, 336), (667, 336)):
    annotations.append(dict(text=ylabel, x=fx(xx), y=fy(yy), xref="paper", yref="paper",
                            xanchor="center", yanchor="middle", textangle=-90, showarrow=False,
                            font=dict(size=14, family=FONT, color=TXT)))


def rounded_rect(x0, y0, x1, y1, r=3):
    X0, X1 = fx(x0), fx(x1)
    Y0, Y1 = fy(y0), fy(y1)
    rx, ry = r / W, r / H
    return ("M %f,%f L %f,%f Q %f,%f %f,%f L %f,%f Q %f,%f %f,%f L %f,%f Q %f,%f %f,%f "
            "L %f,%f Q %f,%f %f,%f Z") % (
        X0 + rx, Y0, X1 - rx, Y0, X1, Y0, X1, Y0 - ry, X1, Y1 + ry, X1, Y1, X1 - rx, Y1,
        X0 + rx, Y1, X0, Y1, X0, Y1 + ry, X0, Y0 - ry, X0, Y0, X0 + rx, Y0)


def add_legend(box, entries_y, patch_x, text_x, labels, colors):
    bx0, by0, bx1, by1 = box
    shapes.append(dict(type="path", path=rounded_rect(bx0, by0, bx1, by1), xref="paper", yref="paper",
                       fillcolor="rgba(255,255,255,0.85)", line=dict(color="#cccccc", width=1),
                       layer="above"))
    for yy, lab, c in zip(entries_y, labels, colors):
        shapes.append(dict(type="rect", xref="paper", yref="paper", x0=fx(patch_x[0]), x1=fx(patch_x[1]),
                           y0=fy(yy + 5.5), y1=fy(yy - 5.5), fillcolor=rgba(c, 0.22),
                           line=dict(color=rgba(c, 0.3), width=1), layer="above"))
        shapes.append(dict(type="line", xref="paper", yref="paper", x0=fx(patch_x[0]), x1=fx(patch_x[1]),
                           y0=fy(yy), y1=fy(yy), line=dict(color=c, width=2), layer="above"))
        annotations.append(dict(text=lab, x=fx(text_x), y=fy(yy), xref="paper", yref="paper",
                                xanchor="left", yanchor="middle", showarrow=False,
                                font=dict(size=16, family=FONT, color=TXT)))


add_legend((493, 31, 622, 186), [47, 72, 97, 121, 146, 171], (498, 532), 546, legend_top_left,
           [ORANGE, BLUE, RED, PURPLE, BROWN, PINK])
add_legend((1138, 53, 1292, 163), [71, 98, 123, 148], (1143, 1178), 1191, legend_top_right,
           [ORANGE, GREEN, BLUE, PINK])
add_legend((489, 268, 632, 400), [286, 311, 335, 360, 385], (496, 530), 543, legend_bot_left,
           [ORANGE, BLUE, GRAY, OLIVE, PINK])
add_legend((1129, 268, 1287, 402), [285, 312, 336, 361, 387], (1135, 1170), 1182, legend_bot_right,
           [ORANGE, GREEN, BLUE, CYAN, PINK])

layout["annotations"] = annotations
layout["shapes"] = shapes
fig.update_layout(**layout)
fig.write_html("out.html")
